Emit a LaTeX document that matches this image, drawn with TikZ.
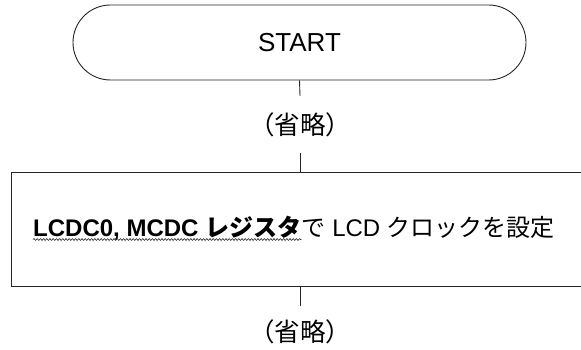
\documentclass[tikz,border=0pt]{standalone}
\usepackage{fontspec}
\setmainfont{Liberation Sans}
\newfontfamily\jp{Noto Sans CJK JP}
\usetikzlibrary{decorations.pathmorphing}
\begin{document}
\begin{tikzpicture}[x=1pt,y=-1pt,
  every node/.style={font=\fontsize{24}{28}\selectfont},
  flowline/.style={draw=black!85, line width=0.9pt},
  terminal/.style={flowline, rounded corners=37.5pt, minimum width=453pt, minimum height=75pt, inner sep=0pt},
  procbox/.style={flowline, minimum width=572pt, minimum height=114pt, inner sep=0pt},
  omit/.style={inner sep=0pt, minimum width=100pt, font=\fontsize{25.5}{28}\selectfont},
  wavy/.style={draw=black!90, line width=0.55pt, decorate, decoration={snake, amplitude=0.9pt, segment length=3.2pt}}
]
\useasboundingbox (0,0) rectangle (581,350);
\node[terminal, font=\fontsize{26}{30}\selectfont] (start) at (299.5,42.5) {START};
\node[omit, minimum height=57pt] (om1) at (300,124.5) {\jp （省略）};
\node[procbox] (box) at (297,229) {};
\node[anchor=base west, inner sep=0pt, font=\fontsize{24}{28}\selectfont\bfseries] (t1) at (33,236.5) {LCDC0, MCDC {\jp レジスタ}};
\node[anchor=base west, inner sep=0pt] (t2) at (t1.base east) {{\jp で} LCD {\jp クロックを設定}};
\draw[wavy] ([yshift=-3pt]t1.base west) -- ([yshift=-3pt]t1.base east);
\node[omit, minimum height=52pt] (om2) at (300,332) {\jp （省略）};
\draw[flowline] (start.south) -- (om1.north);
\draw[flowline] (om1.south) -- (box.north -| om1.south);
\draw[flowline] (box.south -| om2.north) -- (om2.north);
\end{tikzpicture}
\end{document}
